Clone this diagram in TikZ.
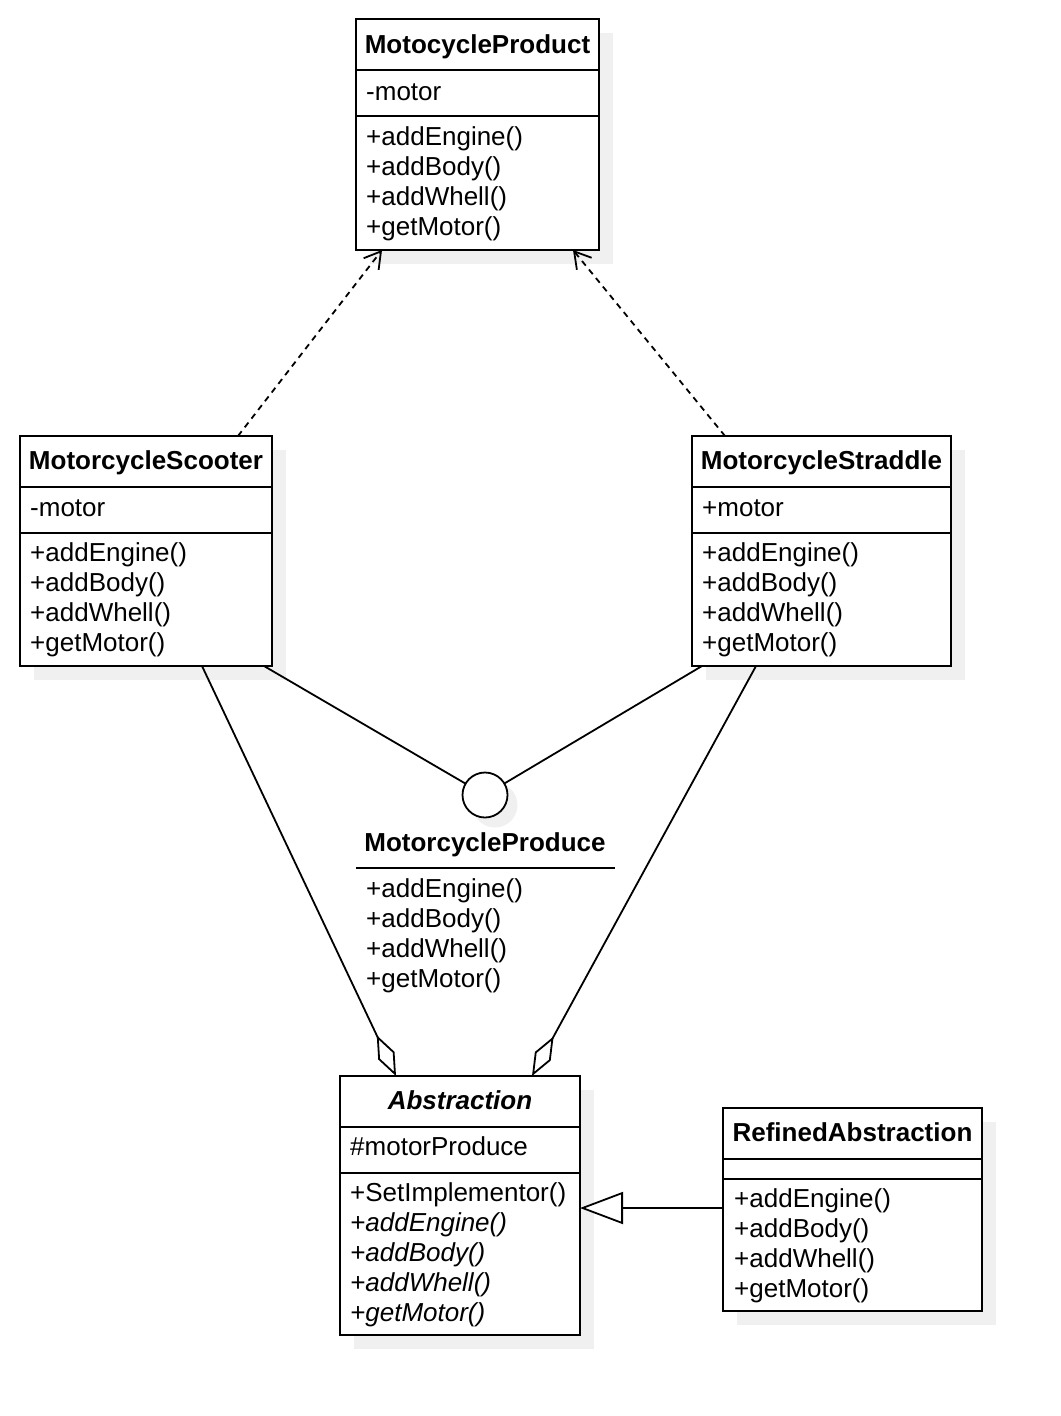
\documentclass[tikz,border=0pt]{standalone}
\usepackage{fontspec}
\setmainfont{Liberation Sans}
\usetikzlibrary{arrows.meta,shadows}
\begin{document}
\begin{tikzpicture}[x=1pt,y=-1pt,
  shd/.style={drop shadow={shadow xshift=14pt,shadow yshift=-14pt,fill=black!6,opacity=1}},
  cls/.style={draw,line width=1.8pt,fill=white,anchor=north west,inner sep=0pt,outer sep=0pt,shd},
  txt/.style={anchor=base west,inner sep=0pt,font=\fontsize{26}{30}\selectfont},
  ttl/.style={anchor=base,inner sep=0pt,font=\fontsize{26}{30}\selectfont\bfseries},
  sep/.style={line width=1.8pt},
  conn/.style={line width=1.8pt},
  dep/.style={conn,dash pattern=on 6pt off 5pt,-{Straight Barb[length=16pt,width=19pt]}},
  agg/.style={conn,-{Diamond[open,length=45pt,width=18pt,fill=white]}},
  gen/.style={conn,-{Triangle[open,length=43pt,width=32pt,fill=white]}}
]
\useasboundingbox (0,0) rectangle (1060,1416);

% MotocycleProduct
\node[cls,minimum width=243pt,minimum height=231pt] (prod) at (356,19) {};
\draw[sep] ([yshift=-51pt]prod.north west) -- ([yshift=-51pt]prod.north east);
\draw[sep] ([yshift=-97pt]prod.north west) -- ([yshift=-97pt]prod.north east);
\node[ttl] (prodT) at (477.5,53) {MotocycleProduct};
\node[txt] (prodA) at (366,100) {-motor};
\node[txt] (prodM1) at (366,145) {+addEngine()};
\node[txt] (prodM2) at (366,175) {+addBody()};
\node[txt] (prodM3) at (366,205) {+addWhell()};
\node[txt] (prodM4) at (366,235) {+getMotor()};

% MotorcycleScooter
\node[cls,minimum width=252pt,minimum height=230pt] (scoot) at (20,436) {};
\draw[sep] ([yshift=-51pt]scoot.north west) -- ([yshift=-51pt]scoot.north east);
\draw[sep] ([yshift=-97pt]scoot.north west) -- ([yshift=-97pt]scoot.north east);
\node[ttl] (scootT) at (146,469) {MotorcycleScooter};
\node[txt] (scootA) at (30,516) {-motor};
\node[txt] (scootM1) at (30,561) {+addEngine()};
\node[txt] (scootM2) at (30,591) {+addBody()};
\node[txt] (scootM3) at (30,621) {+addWhell()};
\node[txt] (scootM4) at (30,651) {+getMotor()};

% MotorcycleStraddle
\node[cls,minimum width=259pt,minimum height=230pt] (strad) at (692,436) {};
\draw[sep] ([yshift=-51pt]strad.north west) -- ([yshift=-51pt]strad.north east);
\draw[sep] ([yshift=-97pt]strad.north west) -- ([yshift=-97pt]strad.north east);
\node[ttl] (stradT) at (821.5,469) {MotorcycleStraddle};
\node[txt] (stradA) at (702,516) {+motor};
\node[txt] (stradM1) at (702,561) {+addEngine()};
\node[txt] (stradM2) at (702,591) {+addBody()};
\node[txt] (stradM3) at (702,621) {+addWhell()};
\node[txt] (stradM4) at (702,651) {+getMotor()};

% Interface MotorcycleProduce
\node[circle,draw,line width=1.8pt,fill=white,minimum size=45pt,inner sep=0pt,outer sep=0pt,
  drop shadow={shadow xshift=10pt,shadow yshift=-10pt,fill=black!6,opacity=1}] (iface) at (485,795) {};
\node[ttl] (ifaceT) at (485,851) {MotorcycleProduce};
\draw[sep] (356,868) -- (615,868);
\node[txt] (ifaceM1) at (366,897) {+addEngine()};
\node[txt] (ifaceM2) at (366,927) {+addBody()};
\node[txt] (ifaceM3) at (366,957) {+addWhell()};
\node[txt] (ifaceM4) at (366,987) {+getMotor()};

% Abstraction
\node[cls,minimum width=240pt,minimum height=259pt] (abs) at (340,1076) {};
\draw[sep] ([yshift=-51pt]abs.north west) -- ([yshift=-51pt]abs.north east);
\draw[sep] ([yshift=-97pt]abs.north west) -- ([yshift=-97pt]abs.north east);
\node[ttl,font=\fontsize{26}{30}\selectfont\bfseries\itshape] (absT) at (460,1109) {Abstraction};
\node[txt] (absA) at (350,1155) {\#motorProduce};
\node[txt] (absM1) at (350,1201) {+SetImplementor()};
\node[txt] (absM2) at (350,1231) {\itshape +addEngine()};
\node[txt] (absM3) at (350,1261) {\itshape +addBody()};
\node[txt] (absM4) at (350,1291) {\itshape +addWhell()};
\node[txt] (absM5) at (350,1321) {\itshape +getMotor()};

% RefinedAbstraction
\node[cls,minimum width=259pt,minimum height=203pt] (ref) at (723,1108) {};
\draw[sep] ([yshift=-51pt]ref.north west) -- ([yshift=-51pt]ref.north east);
\draw[sep] ([yshift=-71pt]ref.north west) -- ([yshift=-71pt]ref.north east);
\node[ttl] (refT) at (852.5,1141) {RefinedAbstraction};
\node[txt] (refM1) at (734,1207) {+addEngine()};
\node[txt] (refM2) at (734,1237) {+addBody()};
\node[txt] (refM3) at (734,1267) {+addWhell()};
\node[txt] (refM4) at (734,1297) {+getMotor()};

% Connectors
\draw[dep] ([xshift=218pt]scoot.north west) -- ([xshift=26pt]prod.south west);
\draw[dep] ([xshift=33pt]strad.north west) -- ([xshift=217pt]prod.south west);
\draw[conn] ([xshift=244pt]scoot.south west) -- (iface);
\draw[conn] ([xshift=10pt]strad.south west) -- (iface);
\draw[agg] ([xshift=182pt]scoot.south west) -- ([xshift=56pt]abs.north west);
\draw[agg] ([xshift=64pt]strad.south west) -- ([xshift=192pt]abs.north west);
\draw[gen] ([yshift=-100pt]ref.north west) -- ([yshift=-132pt]abs.north east);
\end{tikzpicture}
\end{document}
